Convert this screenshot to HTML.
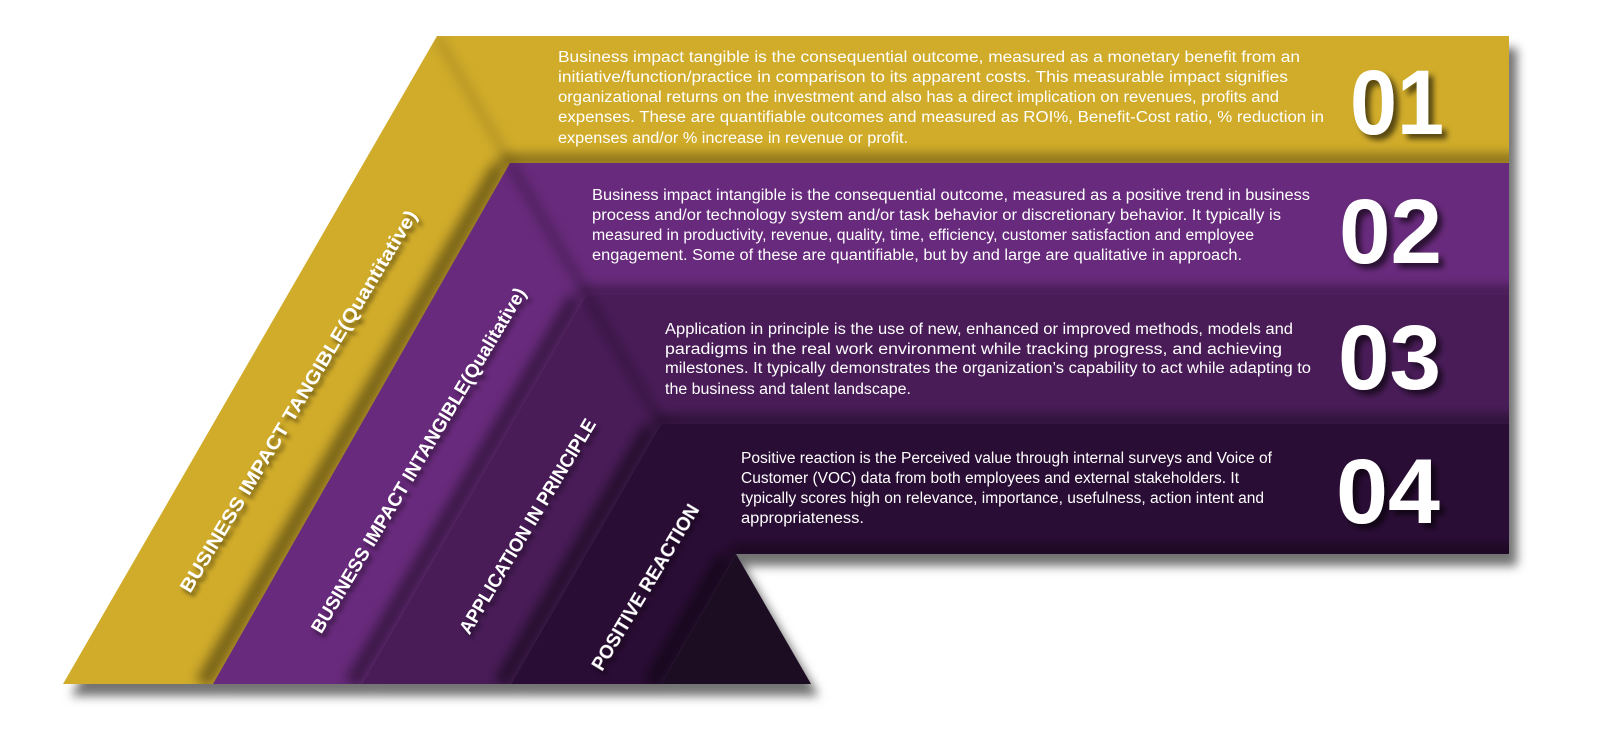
<!DOCTYPE html>
<html><head><meta charset="utf-8">
<style>
html,body{margin:0;padding:0;background:#fff;}
svg{display:block;}
.p{font-family:"Liberation Sans",sans-serif;font-size:15.5px;fill:#fff;}
.n{font-family:"Liberation Sans",sans-serif;font-weight:bold;font-size:92px;fill:#fff;}
.l{font-family:"Liberation Sans",sans-serif;font-weight:bold;font-size:19px;fill:#fff;}
</style></head>
<body>
<svg width="1600" height="732" viewBox="0 0 1600 732" xmlns="http://www.w3.org/2000/svg">
<defs>
<filter id="ds" x="-5%" y="-5%" width="115%" height="120%">
<feDropShadow dx="8" dy="12" stdDeviation="5" flood-color="#000" flood-opacity="0.55"/>
</filter>
<filter id="bl"><feGaussianBlur stdDeviation="6"/></filter>
<filter id="ts" x="-10%" y="-10%" width="130%" height="140%">
<feDropShadow dx="5" dy="5" stdDeviation="3" flood-color="#000" flood-opacity="0.6"/>
</filter>
<filter id="ts2" x="-10%" y="-30%" width="130%" height="180%">
<feDropShadow dx="3" dy="4" stdDeviation="2" flood-color="#000" flood-opacity="0.5"/>
</filter>
<clipPath id="c1"><polygon points="63,684 437,36 1509,36 1509,163 510,163 213,684"/></clipPath>
<clipPath id="c2"><polygon points="213,684 510,163 1509,163 1509,295 586,295 362,684"/></clipPath>
<clipPath id="c3"><polygon points="362,684 586,295 1509,295 1509,424 661,424 511,684"/></clipPath>
<clipPath id="c4"><polygon points="511,684 661,424 1509,424 1509,554 736,554 661,684"/></clipPath>
<clipPath id="c5"><polygon points="661,684 736,554 811,684"/></clipPath>
</defs>

<g filter="url(#ds)">
<polygon points="63,684 437,36 1509,36 1509,163 510,163 213,684" fill="#d1ac2c"/>
<polygon points="213,684 510,163 1509,163 1509,295 586,295 362,684" fill="#67297b"/>
<polygon points="362,684 586,295 1509,295 1509,424 661,424 511,684" fill="#4a1f59"/>
<polygon points="511,684 661,424 1509,424 1509,554 736,554 661,684" fill="#2b0f36"/>
<polygon points="661,684 736,554 811,684" fill="#1d0e22"/>
</g>

<g clip-path="url(#c1)"><g filter="url(#bl)" stroke="#000" stroke-opacity="0.45" fill="none">
<line x1="203" y1="684" x2="500" y2="166" stroke-width="16"/>
<line x1="500" y1="160" x2="1520" y2="160" stroke-width="10"/>
<line x1="437" y1="36" x2="520" y2="180" stroke-width="6" stroke-opacity="0.2"/>
</g></g>
<g clip-path="url(#c2)"><g filter="url(#bl)" stroke="#000" stroke-opacity="0.45" fill="none">
<line x1="352" y1="684" x2="576" y2="298" stroke-width="16"/>
<line x1="580" y1="292" x2="1520" y2="292" stroke-width="10"/>
<line x1="510" y1="163" x2="590" y2="300" stroke-width="8" stroke-opacity="0.3"/>
</g></g>
<g clip-path="url(#c3)"><g filter="url(#bl)" stroke="#000" stroke-opacity="0.5" fill="none">
<line x1="501" y1="684" x2="651" y2="427" stroke-width="16"/>
<line x1="655" y1="421" x2="1520" y2="421" stroke-width="10"/>
<line x1="586" y1="295" x2="665" y2="430" stroke-width="8" stroke-opacity="0.3"/>
</g></g>
<g clip-path="url(#c4)"><g filter="url(#bl)" stroke="#000" stroke-opacity="0.5" fill="none">
<line x1="651" y1="684" x2="726" y2="557" stroke-width="16"/>
<line x1="730" y1="551" x2="1520" y2="551" stroke-width="10"/>
</g></g>

<g class="p">
<text x="558" y="62" textLength="742" lengthAdjust="spacingAndGlyphs">Business impact tangible is the consequential outcome, measured as a monetary benefit from an</text>
<text x="558" y="82" textLength="730" lengthAdjust="spacingAndGlyphs">initiative/function/practice in comparison to its apparent costs. This measurable impact signifies</text>
<text x="558" y="102" textLength="721" lengthAdjust="spacingAndGlyphs">organizational returns on the investment and also has a direct implication on revenues, profits and</text>
<text x="558" y="122" textLength="766" lengthAdjust="spacingAndGlyphs">expenses. These are quantifiable outcomes and measured as ROI%, Benefit-Cost ratio, % reduction in</text>
<text x="558" y="143" textLength="350" lengthAdjust="spacingAndGlyphs">expenses and/or % increase in revenue or profit.</text>

<text x="592" y="200" textLength="718" lengthAdjust="spacingAndGlyphs">Business impact intangible is the consequential outcome, measured as a positive trend in business</text>
<text x="592" y="220" textLength="689" lengthAdjust="spacingAndGlyphs">process and/or technology system and/or task behavior or discretionary behavior. It typically is</text>
<text x="592" y="240" textLength="662" lengthAdjust="spacingAndGlyphs">measured in productivity, revenue, quality, time, efficiency, customer satisfaction and employee</text>
<text x="592" y="260" textLength="650" lengthAdjust="spacingAndGlyphs">engagement. Some of these are quantifiable, but by and large are qualitative in approach.</text>

<text x="665" y="334" textLength="628" lengthAdjust="spacingAndGlyphs">Application in principle is the use of new, enhanced or improved methods, models and</text>
<text x="665" y="354" textLength="617" lengthAdjust="spacingAndGlyphs">paradigms in the real work environment while tracking progress, and achieving</text>
<text x="665" y="373" textLength="646" lengthAdjust="spacingAndGlyphs">milestones. It typically demonstrates the organization’s capability to act while adapting to</text>
<text x="665" y="394" textLength="246" lengthAdjust="spacingAndGlyphs">the business and talent landscape.</text>

<text x="741" y="463" textLength="531" lengthAdjust="spacingAndGlyphs">Positive reaction is the Perceived value through internal surveys and Voice of</text>
<text x="741" y="483" textLength="498" lengthAdjust="spacingAndGlyphs">Customer (VOC) data from both employees and external stakeholders. It</text>
<text x="741" y="503" textLength="523" lengthAdjust="spacingAndGlyphs">typically scores high on relevance, importance, usefulness, action intent and</text>
<text x="741" y="523" textLength="123" lengthAdjust="spacingAndGlyphs">appropriateness.</text>
</g>

<g class="n" filter="url(#ts)">
<text x="1350" y="134" textLength="94" lengthAdjust="spacingAndGlyphs">01</text>
<text x="1339" y="263" textLength="103" lengthAdjust="spacingAndGlyphs">02</text>
<text x="1338" y="389" textLength="103" lengthAdjust="spacingAndGlyphs">03</text>
<text x="1336" y="523" textLength="104" lengthAdjust="spacingAndGlyphs">04</text>
</g>

<g class="l" filter="url(#ts2)" text-anchor="middle">
<text transform="translate(298,401) rotate(-59)" y="7" textLength="442" lengthAdjust="spacingAndGlyphs">BUSINESS IMPACT TANGIBLE(Quantitative)</text>
<text transform="translate(418,460) rotate(-59)" y="7" textLength="399" lengthAdjust="spacingAndGlyphs">BUSINESS IMPACT INTANGIBLE(Qualitative)</text>
<text transform="translate(527,526) rotate(-59)" y="7" textLength="247" lengthAdjust="spacingAndGlyphs">APPLICATION IN PRINCIPLE</text>
<text transform="translate(645,587) rotate(-59)" y="7" textLength="190" lengthAdjust="spacingAndGlyphs">POSITIVE REACTION</text>
</g>
</svg>
</body></html>
